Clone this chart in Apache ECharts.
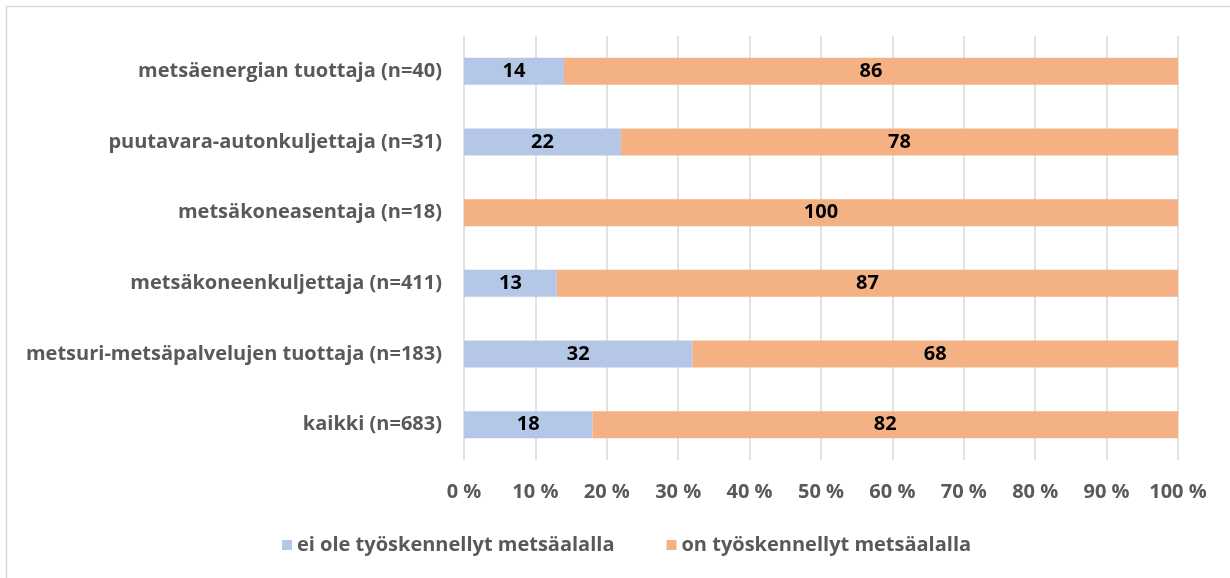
<!DOCTYPE html>
<html><head><meta charset="utf-8">
<script src="https://cdn.jsdelivr.net/npm/echarts@6/dist/echarts.min.js"></script>
<style>html,body{margin:0;padding:0;background:#fff;}#c{width:1230px;height:578px;}</style>
</head><body><div id="c"></div>
<script>
const categories = ["kaikki (n=683)", "metsuri-metsäpalvelujen tuottaja (n=183)", "metsäkoneenkuljettaja (n=411)", "metsäkoneasentaja (n=18)", "puutavara-autonkuljettaja (n=31)", "metsäenergian tuottaja (n=40)"];
const seriesNames = ["ei ole työskennellyt metsäalalla", "on työskennellyt metsäalalla"];
const notWorked = [18, 32, 13, 0, 22, 14];
const worked = [82, 68, 87, 100, 78, 86];
const xTicks = [0, 10, 20, 30, 40, 50, 60, 70, 80, 90, 100];

const FONT = 'Open Sans';
const FS = 20;
const chart = echarts.init(document.getElementById('c'));
const labelStyle = {show: true, position: 'inside', color: '#000', fontFamily: FONT, fontWeight: 'bold', fontSize: FS,
  formatter: p => p.value > 0 ? String(p.value) : ''};
chart.setOption({
  animation: false,
  textStyle: {fontFamily: FONT},
  graphic: [{type: 'rect', shape: {x: 6.5, y: 6.5, width: 1400, height: 800}, style: {fill: 'none', stroke: '#d9d9d9', lineWidth: 1.5}, silent: true}],
  grid: {left: 464, right: 52, top: 36, bottom: 118, containLabel: false},
  legend: {
    bottom: 18, left: 277, itemWidth: 10, itemHeight: 10, itemGap: 52, icon: 'rect',
    textStyle: {color: '#595959', fontFamily: FONT, fontWeight: 'bold', fontSize: 20},
    data: seriesNames
  },
  xAxis: {
    type: 'value', min: 0, max: 100, interval: 10,
    axisLine: {show: false}, axisTick: {show: false},
    splitLine: {show: true, lineStyle: {color: '#d9d9d9', width: 1.5}},
    axisLabel: {color: '#595959', fontFamily: FONT, fontWeight: 'bold', fontSize: FS, margin: 22,
      formatter: v => xTicks.includes(v) ? v + ' %' : ''}
  },
  yAxis: {
    type: 'category', data: categories,
    axisLine: {show: false}, axisTick: {show: false},
    axisLabel: {color: '#595959', fontFamily: FONT, fontWeight: 'bold', fontSize: FS, margin: 22}
  },
  series: [
    {name: seriesNames[0], type: 'bar', stack: 's', data: notWorked, barWidth: 27, itemStyle: {color: '#B4C7E7'}, label: labelStyle},
    {name: seriesNames[1], type: 'bar', stack: 's', data: worked, barWidth: 27, itemStyle: {color: '#F4B183'}, label: labelStyle}
  ]
});
</script></body></html>
